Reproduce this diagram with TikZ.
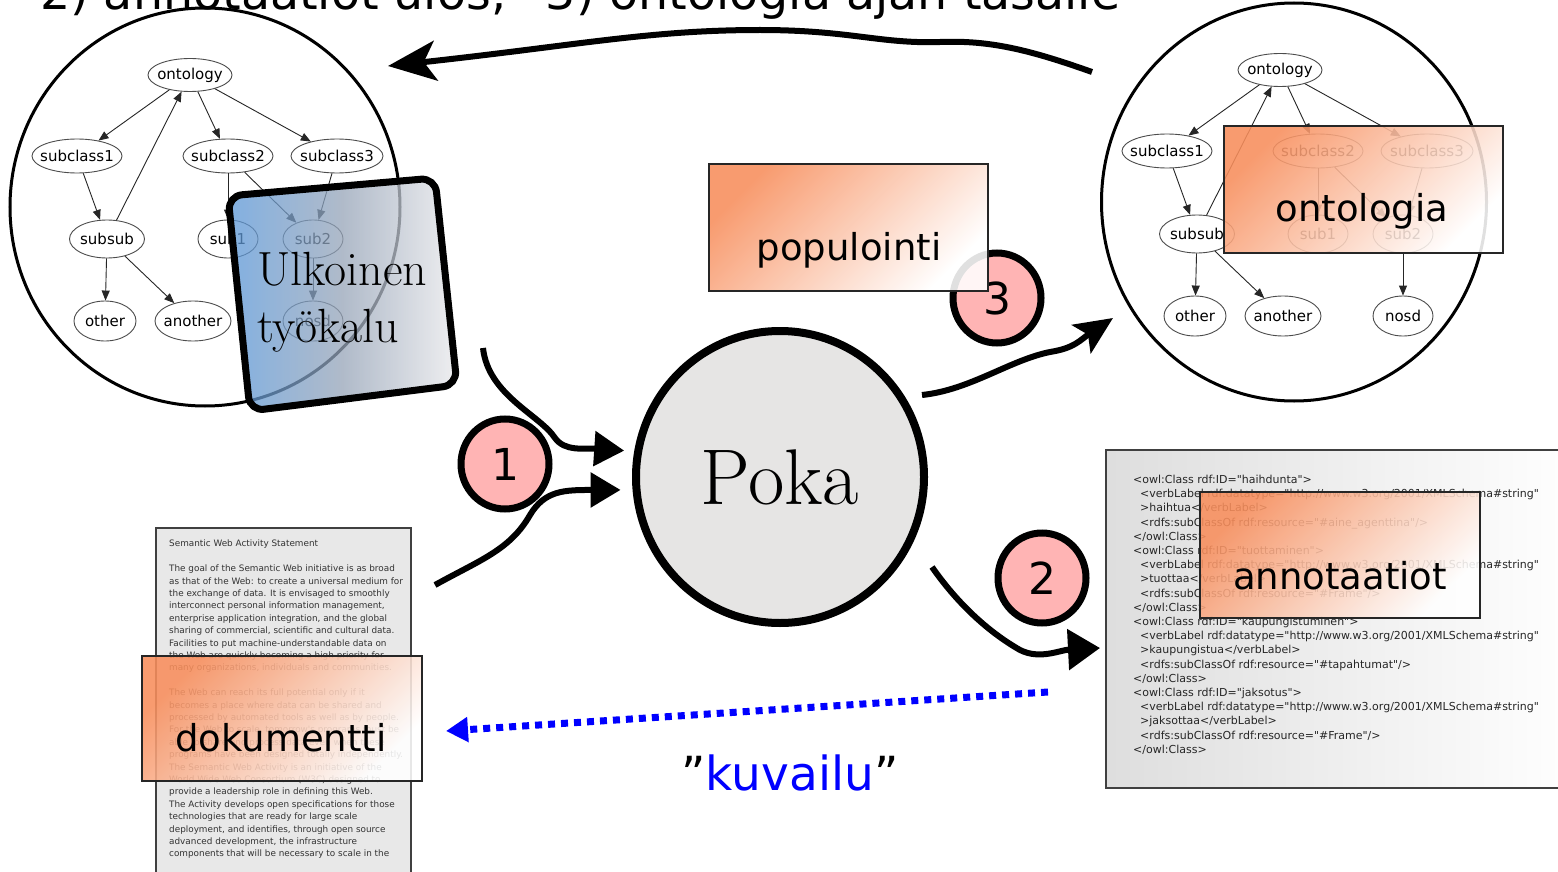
\documentclass[tikz,border=0pt]{standalone}
\usepackage{fontspec}
\newfontfamily\dejavu{DejaVu Sans}
\usetikzlibrary{positioning,arrows.meta,shapes.geometric}

\definecolor{pinkball}{RGB}{255,180,180}
\definecolor{pokagray}{RGB}{230,229,228}
\definecolor{labelorange}{RGB}{248,142,92}
\definecolor{toolblue}{RGB}{88,150,216}
\definecolor{toolmid}{RGB}{150,164,184}
\definecolor{toolgray}{RGB}{234,234,236}
\definecolor{pagegray}{RGB}{232,232,232}
\definecolor{linkblue}{RGB}{0,0,255}

\newcommand{\glabel}[1]{\makebox[0pt]{#1}}

\begin{document}
\begin{tikzpicture}[x=1pt,y=-1pt]
    \tikzstyle{gnode}=[ellipse,draw=black!70,line width=0.9pt,inner sep=0pt,font=\dejavu\fontsize{15}{15}\selectfont]
    \tikzstyle{gedge}=[-{Triangle[length=10pt,width=8pt]},line width=0.9pt,draw=black!85]
    \tikzstyle{world}=[ellipse,draw,line width=3pt,inner sep=0pt]
    \tikzstyle{tag}=[draw=black!85,line width=1.6pt,top color=labelorange,bottom color=white,shading angle=45,fill opacity=0.88,minimum width=279pt,minimum height=127pt]
    \tikzstyle{tagtext}=[anchor=base,inner sep=0pt,font=\dejavu\fontsize{37}{37}\selectfont]
    \tikzstyle{ball}=[ellipse,draw,line width=7pt,fill=pinkball,minimum width=88pt,minimum height=90pt,inner sep=0pt,font=\dejavu\fontsize{44}{44}\selectfont]
    \tikzstyle{sheet}=[draw=black!75,line width=2pt,anchor=north west,inner sep=0pt]
    \tikzstyle{flow}=[line width=6pt]

    \useasboundingbox (0,0) rectangle (1558,872);
    \clip (0,0) rectangle (1558,872);
    \fill[white] (0,0) rectangle (1558,872);

    % the two ontology pictures
    \node[world,minimum width=390pt,minimum height=398pt] (oldworld) at (205,207) {};
    \node[world,minimum width=385pt,minimum height=398pt] (newworld) at (1294,202) {};

    \foreach \g/\dx/\dy in {L/0/0,R/1090/-5}{
      \begin{scope}[shift={(\dx,\dy)}]
        \node[gnode,minimum width=84pt,minimum height=33pt] (\g-ontology) at (190,75) {\glabel{ontology}};
        \node[gnode,minimum width=90pt,minimum height=34pt] (\g-subclass1) at (77,156) {\glabel{subclass1}};
        \node[gnode,minimum width=90pt,minimum height=34pt] (\g-subclass2) at (228,156) {\glabel{subclass2}};
        \node[gnode,minimum width=92pt,minimum height=34pt] (\g-subclass3) at (337,156) {\glabel{subclass3}};
        \node[gnode,minimum width=75pt,minimum height=38pt] (\g-subsub) at (107,239) {\glabel{subsub}};
        \node[gnode,minimum width=60pt,minimum height=38pt] (\g-sub1) at (228,239) {\glabel{sub1}};
        \node[gnode,minimum width=60pt,minimum height=38pt] (\g-sub2) at (313,239) {\glabel{sub2}};
        \node[gnode,minimum width=62pt,minimum height=40pt] (\g-other) at (105,321) {\glabel{other}};
        \node[gnode,minimum width=76pt,minimum height=40pt] (\g-another) at (193,321) {\glabel{another}};
        \node[gnode,minimum width=60pt,minimum height=40pt] (\g-nosd) at (313,321) {\glabel{nosd}};
        \foreach \a/\b in {ontology/subclass1,ontology/subclass2,ontology/subclass3,subclass1/subsub,subsub/ontology,subsub/other,subsub/another,subclass2/sub1,subclass2/sub2,subclass3/sub2,sub2/nosd}
          \draw[gedge] (\g-\a) -- (\g-\b);
      \end{scope}
    }

    % external tool over the old ontology
    \draw[line width=7pt,rounded corners=14pt,left color=toolblue,right color=toolgray,middle color=toolmid,fill opacity=0.75] (228,196) -- (435,178) -- (457,385) -- (250,411) -- cycle;
    \node[anchor=base west,inner sep=0pt,align=left,font=\fontsize{48}{57}\selectfont] (tool) at (257,342) {Ulkoinen\\ty\"okalu};

    \node[tag] (ontologia) at (1363.5,189.5) {};
    \node[tagtext] at (1362,221) {ontologia};

    % the document
    \node[sheet,fill=pagegray,minimum width=255pt,minimum height=360pt] (page) at (155,527) {};
    \node[anchor=north west,inner sep=0pt,align=left,text=black!80,font=\dejavu\fontsize{8.85}{12.4}\selectfont] (statement) at (169,540) {Semantic Web Activity Statement\\[12.4pt]
      The goal of the Semantic Web initiative is as broad\\
      as that of the Web: to create a universal medium for\\
      the exchange of data. It is envisaged to smoothly\\
      interconnect personal information management,\\
      enterprise application integration, and the global\\
      sharing of commercial, scientific and cultural data.\\
      Facilities to put machine-understandable data on\\
      the Web are quickly becoming a high priority for\\
      many organizations, individuals and communities.\\[12.4pt]
      The Web can reach its full potential only if it\\
      becomes a place where data can be shared and\\
      processed by automated tools as well as by people.\\
      For the Web to scale, tomorrow's programs must be\\
      able to share and process data even when these\\
      programs have been designed totally independently.\\
      The Semantic Web Activity is an initiative of the\\
      World Wide Web Consortium (W3C) designed to\\
      provide a leadership role in defining this Web.\\
      The Activity develops open specifications for those\\
      technologies that are ready for large scale\\
      deployment, and identifies, through open source\\
      advanced development, the infrastructure\\
      components that will be necessary to scale in the};
    \node[tag,minimum width=280pt,minimum height=125pt] (dokumentti) at (282,718.5) {};
    \node[tagtext] at (281,751) {dokumentti};

    % the annotations
    \node[sheet,left color=black!13,right color=white,minimum width=470pt,minimum height=338pt] (owlsheet) at (1105,449) {};
    \node[anchor=north west,inner sep=0pt,align=left,text=black!85,font=\dejavu\fontsize{11}{14.2}\selectfont] (owl) at (1133,475) {<owl:Class rdf:ID="haihdunta">\\
      \hspace*{7pt}<verbLabel rdf:datatype="http://www.w3.org/2001/XMLSchema\#string"\\
      \hspace*{7pt}>haihtua</verbLabel>\\
      \hspace*{7pt}<rdfs:subClassOf rdf:resource="\#aine\_agenttina"/>\\
      </owl:Class>\\
      <owl:Class rdf:ID="tuottaminen">\\
      \hspace*{7pt}<verbLabel rdf:datatype="http://www.w3.org/2001/XMLSchema\#string"\\
      \hspace*{7pt}>tuottaa</verbLabel>\\
      \hspace*{7pt}<rdfs:subClassOf rdf:resource="\#Frame"/>\\
      </owl:Class>\\
      <owl:Class rdf:ID="kaupungistuminen">\\
      \hspace*{7pt}<verbLabel rdf:datatype="http://www.w3.org/2001/XMLSchema\#string"\\
      \hspace*{7pt}>kaupungistua</verbLabel>\\
      \hspace*{7pt}<rdfs:subClassOf rdf:resource="\#tapahtumat"/>\\
      </owl:Class>\\
      <owl:Class rdf:ID="jaksotus">\\
      \hspace*{7pt}<verbLabel rdf:datatype="http://www.w3.org/2001/XMLSchema\#string"\\
      \hspace*{7pt}>jaksottaa</verbLabel>\\
      \hspace*{7pt}<rdfs:subClassOf rdf:resource="\#Frame"/>\\
      </owl:Class>};
    \node[tag,minimum width=280pt,minimum height=126pt] (annotaatiot) at (1340,555) {};
    \node[tagtext] at (1340,589) {annotaatiot};

    % Poka and the steps
    \node[ellipse,draw,line width=8pt,fill=pokagray,minimum width=288pt,minimum height=292pt,inner sep=0pt,font=\fontsize{79}{79}\selectfont] (poka) at (780,477) {Poka};
    \node[ball] (one) at (505,464) {1};
    \node[ball] (two) at (1042,578) {2};
    \node[ball] (three) at (997,298) {3};
    \node[tag] (populointi) at (848.5,227.5) {};
    \node[tagtext] at (849,260) {populointi};

    \coordinate (topS) at (1092,72);
    \coordinate (topT) at (388,66);
    \coordinate (inA) at (483,348);
    \coordinate (inB) at (435,585);
    \coordinate (upS) at (922,395);
    \coordinate (upT) at (1113,318);
    \coordinate (outS) at (932,567);
    \coordinate (outT) at (1100,648);
    \coordinate (descS) at (1048,692);
    \coordinate (descT) at (446,731);

    \draw[flow,-{Stealth[length=48pt,width=40pt,inset=12pt]}] (topS) .. controls (1030,50) and (990,40) .. (940,42) .. controls (880,44) and (850,30) .. (760,30) .. controls (650,30) and (580,45) .. (topT);
    \draw[flow,-{Triangle[length=30pt,width=34pt]},shorten >=10pt] (inA) .. controls (488,395) and (540,415) .. (555,438) .. controls (565,452) and (585,448) .. (poka.170);
    \draw[flow,-{Triangle[length=30pt,width=34pt]},shorten >=12pt] (inB) .. controls (480,560) and (510,550) .. (530,515) .. controls (545,490) and (565,490) .. (poka.185);
    \draw[flow,-{Stealth[length=38pt,width=34pt,inset=8pt]}] (upS) .. controls (970,390) and (1010,360) .. (1050,352) .. controls (1075,348) and (1080,340) .. (upT);
    \draw[flow,-{Triangle[length=32pt,width=40pt]}] (outS) .. controls (955,600) and (985,630) .. (1020,650) .. controls (1040,660) and (1060,650) .. (outT);
    \draw[linkblue,line width=7pt,dash pattern=on 7pt off 6pt,-{Triangle[length=22pt,width=24pt]}] (descS) -- (descT);
    \node[anchor=base,inner sep=0pt,font=\dejavu\fontsize{47}{47}\selectfont] (kuvailu) at (790,790) {”\textcolor{linkblue}{kuvailu}”};

    \node[anchor=base west,inner sep=0pt,font=\dejavu\fontsize{47.5}{47.5}\selectfont] (steps) at (40,10) {2) annotaatiot ulos, ”3) ontologia ajan tasalle};
\end{tikzpicture}
\end{document}
